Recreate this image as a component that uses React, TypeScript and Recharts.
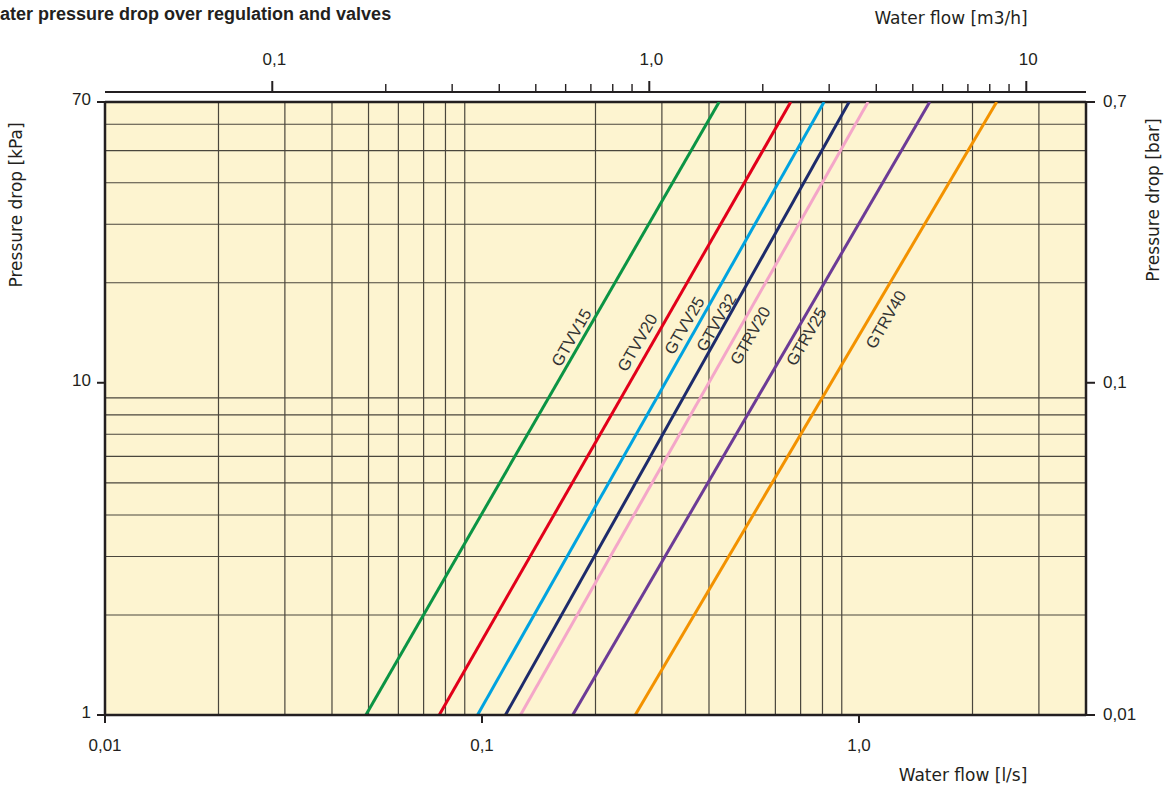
import React from 'react';
import { ComposedChart, Line, XAxis, YAxis, ReferenceLine, ReferenceArea } from 'recharts';

// ---- data ----
const seriesNames = ['GTVV15', 'GTVV20', 'GTVV25', 'GTVV32', 'GTRV20', 'GTRV25', 'GTRV40'];
const seriesColors = ['#0b9444', '#e2001a', '#00a3e0', '#1d2b6b', '#f4a6c8', '#6c3b96', '#f39200'];
// water flow [l/s] where each curve crosses 1 kPa and 70 kPa
const flowAt1kPa = [0.0492, 0.077, 0.0973, 0.1154, 0.1265, 0.174, 0.2549];
const flowAt70kPa = [0.4255, 0.659, 0.8075, 0.941, 1.0566, 1.54, 2.318];
const pressureEnds = [1, 70];
// where the curve names sit (flow [l/s], pressure [kPa])
const labelFlow = [0.1723, 0.2578, 0.3435, 0.4176, 0.514, 0.7234, 1.1765];
const labelKpa = [13.7, 13.23, 14.89, 15.2, 13.89, 13.79, 15.52];

const flowDomain = [0.01, 4];
const flowTicks = [0.01, 0.1, 1];
const flowTickLabels = ['0,01', '0,1', '1,0'];
const flowGrid = [0.02, 0.03, 0.04, 0.05, 0.06, 0.07, 0.08, 0.09, 0.2, 0.3, 0.4, 0.5, 0.6, 0.7, 0.8, 0.9, 2, 3];

const kpaDomain = [1, 70];
const kpaTicks = [1, 10, 70];
const kpaTickLabels = ['1', '10', '70'];
const kpaGrid = [2, 3, 4, 5, 6, 7, 8, 9, 20, 30, 40, 50, 60];

const barDomain = [0.01, 0.7];
const barTicks = [0.01, 0.1, 0.7];
const barTickLabels = ['0,01', '0,1', '0,7'];

const m3hDomain = [0.036, 14.4];
const m3hTicks = [0.1, 0.2, 0.3, 0.4, 0.5, 0.6, 0.7, 0.8, 0.9, 1, 2, 3, 4, 5, 6, 7, 8, 9, 10];
const m3hMajor = [0.1, 1, 10];
const m3hTickLabels = ['0,1', '1,0', '10'];

// ---- styles ----
const NUM_FONT = '"Liberation Sans", Arial, Helvetica, sans-serif';
const TXT_FONT = '"DejaVu Sans", "Liberation Sans", Arial, sans-serif';
const INK = '#231f20';
const GRID = '#4a463c';
const PAPER = '#fdf4d0';

const lineData = seriesNames.map((_, i) => [
  { q: flowAt1kPa[i], p: pressureEnds[0] },
  { q: flowAt70kPa[i], p: pressureEnds[1] },
]);
const labelData = seriesNames.map((name, i) => ({ q: labelFlow[i], p: labelKpa[i], name }));
// invisible helper series spanning the m3/h axis so that axis gets its scale
const m3hSpan = m3hDomain.map((m, i) => ({ m, p: kpaDomain[i] }));

function lookup(values: number[], labels: string[], v: number) {
  const i = values.findIndex((t) => Math.abs(t - v) < 1e-9);
  return i >= 0 ? labels[i] : '';
}

const BottomTick = (props: any) => {
  const { x, y, payload } = props;
  return (
    <text x={x} y={y} dy="0.71em" textAnchor="middle" fontSize={17} fill={INK} fontFamily={NUM_FONT}>
      {lookup(flowTicks, flowTickLabels, payload.value)}
    </text>
  );
};

const LeftTick = (props: any) => {
  const { x, y, payload } = props;
  return (
    <text x={x} y={y - 3} dy="0.35em" textAnchor="end" fontSize={17} fill={INK} fontFamily={NUM_FONT}>
      {lookup(kpaTicks, kpaTickLabels, payload.value)}
    </text>
  );
};

const RightTick = (props: any) => {
  const { x, y, payload } = props;
  return (
    <text x={x} y={y - 1} dy="0.35em" textAnchor="start" fontSize={17} fill={INK} fontFamily={NUM_FONT}>
      {lookup(barTicks, barTickLabels, payload.value)}
    </text>
  );
};

const TopTick = (props: any) => {
  const { x, y, payload } = props;
  const major = m3hMajor.some((m) => Math.abs(m - payload.value) < 1e-9);
  const base = y - 10;
  return (
    <g>
      <line x1={x} x2={x} y1={base} y2={base - (major ? 11 : 8)} stroke={INK} strokeWidth={major ? 2 : 1.4} />
      {major && (
        <text x={x + 2} y={y - 37} textAnchor="middle" fontSize={17} fill={INK} fontFamily={NUM_FONT}>
          {lookup(m3hMajor, m3hTickLabels, payload.value)}
        </text>
      )}
    </g>
  );
};

const renderCurveLabel = (props: any) => {
  const { cx, cy, payload, index } = props;
  if (cx == null || cy == null) return <g key={`l-${index}`} />;
  return (
    <text
      key={`l-${index}`}
      x={cx}
      y={cy}
      transform={`rotate(-60 ${cx} ${cy})`}
      textAnchor="middle"
      dominantBaseline="central"
      fontSize={16.5}
      fill="#333"
      fontFamily={NUM_FONT}
    >
      {payload.name}
    </text>
  );
};

export default function App() {
  return (
    <div style={{ position: 'absolute', left: 0, top: 0, width: 1171, height: 792, background: '#fff' }}>
      <ComposedChart width={1171} height={792} margin={{ top: 0, right: 0, bottom: 0, left: 0 }}>
        <ReferenceArea
          xAxisId="q"
          yAxisId="kpa"
          x1={flowDomain[0]}
          x2={flowDomain[1]}
          y1={kpaDomain[0]}
          y2={kpaDomain[1]}
          fill={PAPER}
          fillOpacity={1}
          stroke="none"
          ifOverflow="visible"
        />
        {flowGrid.map((v) => (
          <ReferenceLine key={`vx-${v}`} xAxisId="q" yAxisId="kpa" x={v} stroke={GRID} strokeWidth={1.2} />
        ))}
        {kpaGrid.map((v) => (
          <ReferenceLine key={`hy-${v}`} xAxisId="q" yAxisId="kpa" y={v} stroke={GRID} strokeWidth={1.2} />
        ))}
        <ReferenceLine xAxisId="q" yAxisId="kpa" y={kpaDomain[1]} stroke={INK} strokeWidth={2.5} ifOverflow="visible" />
        <Line
          data={m3hSpan}
          dataKey="p"
          xAxisId="m3h"
          yAxisId="kpa"
          stroke="none"
          dot={false}
          activeDot={false}
          isAnimationActive={false}
          legendType="none"
        />
        {seriesNames.map((name, i) => (
          <Line
            key={name}
            name={name}
            data={lineData[i]}
            dataKey="p"
            xAxisId="q"
            yAxisId="kpa"
            type="linear"
            stroke={seriesColors[i]}
            strokeWidth={3}
            dot={false}
            activeDot={false}
            isAnimationActive={false}
          />
        ))}
        <Line
          data={labelData}
          dataKey="p"
          xAxisId="q"
          yAxisId="kpa"
          stroke="none"
          dot={renderCurveLabel}
          activeDot={false}
          isAnimationActive={false}
          legendType="none"
        />
        <XAxis
          xAxisId="q"
          dataKey="q"
          type="number"
          scale="log"
          domain={flowDomain}
          allowDataOverflow
          ticks={flowTicks}
          interval={0}
          orientation="bottom"
          height={77}
          tickSize={8}
          tickMargin={16}
          axisLine={{ stroke: INK, strokeWidth: 2.5 }}
          tickLine={{ stroke: INK, strokeWidth: 2 }}
          tick={BottomTick}
        />
        <XAxis
          xAxisId="m3h"
          dataKey="m"
          type="number"
          scale="log"
          domain={m3hDomain}
          allowDataOverflow
          ticks={m3hTicks}
          interval={0}
          orientation="top"
          height={102}
          tickSize={0}
          tickMargin={0}
          tickLine={false}
          axisLine={{ stroke: INK, strokeWidth: 2, transform: 'translate(0,-10)' }}
          tick={TopTick}
        />
        <YAxis
          yAxisId="kpa"
          dataKey="p"
          type="number"
          scale="log"
          domain={kpaDomain}
          allowDataOverflow
          ticks={kpaTicks}
          interval={0}
          orientation="left"
          width={105}
          tickSize={8}
          tickMargin={6}
          axisLine={{ stroke: INK, strokeWidth: 2.5 }}
          tickLine={{ stroke: INK, strokeWidth: 2 }}
          tick={LeftTick}
        />
        <YAxis
          yAxisId="bar"
          type="number"
          scale="log"
          domain={barDomain}
          allowDataOverflow
          ticks={barTicks}
          interval={0}
          orientation="right"
          width={85}
          tickSize={9}
          tickMargin={8}
          axisLine={{ stroke: INK, strokeWidth: 2.5 }}
          tickLine={{ stroke: INK, strokeWidth: 2 }}
          tick={RightTick}
        />
      </ComposedChart>
      <svg
        width={1171}
        height={792}
        style={{ position: 'absolute', left: 0, top: 0, pointerEvents: 'none' }}
      >
        <text x={0} y={20} textAnchor="start" fontSize={18} fontWeight="bold" fill={INK} fontFamily={NUM_FONT}>
          ater pressure drop over regulation and valves
        </text>
        <text x={951} y={24} textAnchor="middle" fontSize={17} fill={INK} fontFamily={TXT_FONT}>
          Water flow [m3/h]
        </text>
        <text x={963} y={781} textAnchor="middle" fontSize={17} fill={INK} fontFamily={TXT_FONT}>
          Water flow [l/s]
        </text>
        <text x={22} y={205} transform="rotate(-90 22 205)" textAnchor="middle" fontSize={17} fill={INK} fontFamily={TXT_FONT}>
          Pressure drop [kPa]
        </text>
        <text x={1159} y={200} transform="rotate(-90 1159 200)" textAnchor="middle" fontSize={17} fill={INK} fontFamily={TXT_FONT}>
          Pressure drop [bar]
        </text>
      </svg>
    </div>
  );
}
